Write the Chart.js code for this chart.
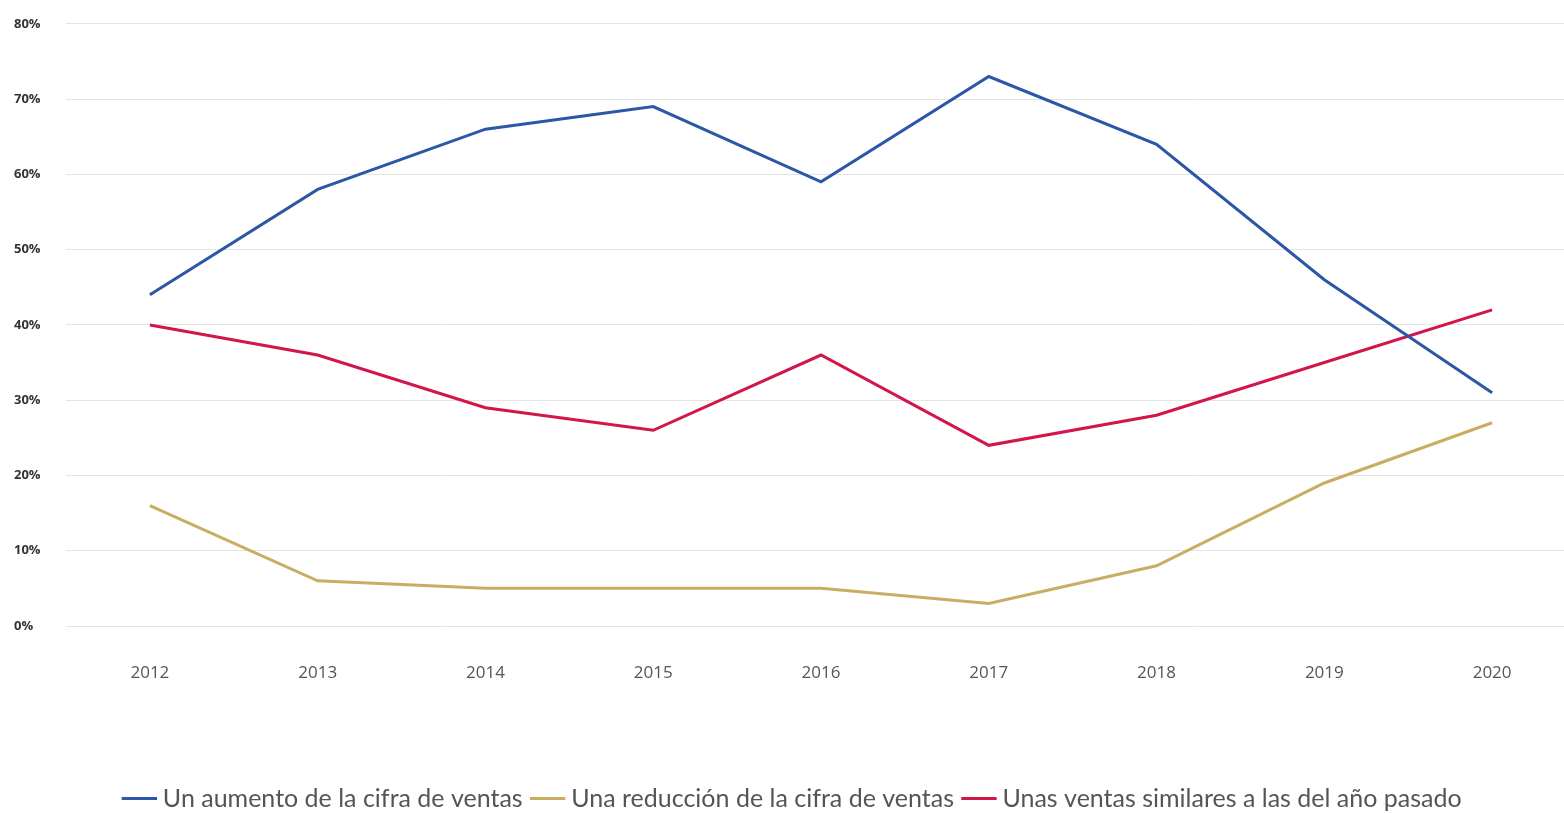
<!DOCTYPE html>
<html>
<head>
<meta charset="utf-8">
<script src="https://cdn.jsdelivr.net/npm/chart.js@4/dist/chart.umd.min.js"></script>
<style>
  html, body { margin: 0; padding: 0; background: #fff; overflow: hidden; }
  #wrap { width: 1576px; height: 813px; position: relative; }
</style>
</head>
<body>
<div id="wrap"><canvas id="grafico"></canvas></div>
<script>
const anos = ["2012", "2013", "2014", "2015", "2016", "2017", "2018", "2019", "2020"];
const aumento = [44, 58, 66, 69, 59, 73, 64, 46, 31];
const reduccion = [16, 6, 5, 5, 5, 3, 8, 19, 27];
const similares = [40, 36, 29, 26, 36, 24, 28, 35, 42];
const nombres = ["Un aumento de la cifra de ventas", "Una reducción de la cifra de ventas", "Unas ventas similares a las del año pasado"];
const colores = ["#2b57a6", "#c9ad62", "#d2164a"];

const series = [aumento, reduccion, similares];

const ctx = document.getElementById("grafico").getContext("2d");
new Chart(ctx, {
    type: "line",
    data: {
        labels: anos,
        datasets: series.map((valores, i) => ({
            label: nombres[i],
            data: valores,
            borderColor: colores[i],
            backgroundColor: colores[i],
            borderWidth: 3,
            pointRadius: 0,
            tension: 0,
            fill: false
        }))
    },
    options: {
        responsive: true,
        maintainAspectRatio: false,
        animation: false,
        layout: { padding: { left: 14, right: 0, top: 23, bottom: -8 } },
        plugins: {
            legend: {
                position: "bottom",
                labels: {
                    usePointStyle: true,
                    pointStyle: "line",
                    boxWidth: 22,
                    padding: 14,
                    color: "#555",
                    font: { family: "Lato", size: 25 }
                }
            },
            tooltip: { enabled: false }
        },
        scales: {
            x: {
                offset: true,
                grid: { display: false, drawTicks: false },
                border: { display: false },
                ticks: { color: "#555", font: { family: "Open Sans", size: 17 }, padding: 37 },
                afterFit: scale => { scale.height = 146; }
            },
            y: {
                min: 0,
                max: 80,
                grid: { color: "#e4e4e4", drawTicks: false },
                border: { display: false },
                ticks: {
                    stepSize: 10,
                    color: "#333",
                    font: { family: "Open Sans", size: 13, weight: "bold" },
                    padding: 16,
                    crossAlign: "far",
                    callback: v => v + "%"
                },
                afterFit: scale => { scale.width = 52; }
            }
        }
    }
});
</script>
</body>
</html>
